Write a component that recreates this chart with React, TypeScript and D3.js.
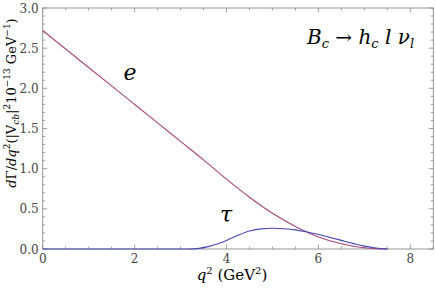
import React, { useEffect, useRef } from "react";
import * as d3 from "d3";

// e channel: q^2 (GeV^2) and dGamma/dq^2
const eQ2 = [0, 0.5, 1.0, 1.5, 2.0, 2.5, 3.0, 3.5, 4.0, 4.5, 5.0, 5.5, 6.0, 6.5, 7.0, 7.25, 7.5];
const eRate = [2.72, 2.49, 2.26, 2.03, 1.8, 1.57, 1.34, 1.11, 0.87, 0.645, 0.445, 0.28, 0.15, 0.065, 0.015, 0.004, 0];

// tau channel
const tauQ2 = [0, 3.16, 3.4, 3.6, 3.8, 4.0, 4.25, 4.5, 4.75, 5.0, 5.25, 5.5, 5.7, 6.0, 6.3, 6.5, 6.75, 7.0, 7.25, 7.5];
const tauRate = [0, 0, 0.008, 0.03, 0.062, 0.105, 0.17, 0.225, 0.25, 0.258, 0.252, 0.238, 0.218, 0.18, 0.137, 0.107, 0.07, 0.036, 0.012, 0];

const xTicks = [0, 2, 4, 6, 8];
const yTicks = [0, 0.5, 1.0, 1.5, 2.0, 2.5, 3.0];

const W = 436;
const H = 288;

const App = () => {
  const svgRef = useRef<SVGSVGElement>(null);

  useEffect(() => {
    const svg = d3.select(svgRef.current);
    svg.selectAll("*").remove();

    const left = 42.7;
    const right = 433.3;
    const top = 8;
    const bottom = 249;

    const x = d3.scaleLinear().domain([0, 8.5]).range([left, right]);
    const y = d3.scaleLinear().domain([0, 3]).range([bottom, top]);

    const frameColor = "#8a8a8a";
    const labelColor = "#444";
    const font = "'DejaVu Serif'";

    // minor ticks
    const xMinor = d3.range(0, 8.5001, 0.5).filter((v) => !xTicks.includes(v));
    const yMinor = d3.range(0, 3.0001, 0.1).map((v) => +v.toFixed(1)).filter((v) => !yTicks.includes(v));

    const ticks = svg.append("g").attr("stroke", frameColor).attr("stroke-width", 0.8);
    const major = 4.5;
    const minor = 2.5;
    xTicks.forEach((v) => {
      ticks.append("line").attr("x1", x(v)).attr("x2", x(v)).attr("y1", bottom).attr("y2", bottom - major);
      ticks.append("line").attr("x1", x(v)).attr("x2", x(v)).attr("y1", top).attr("y2", top + major);
    });
    xMinor.forEach((v) => {
      ticks.append("line").attr("x1", x(v)).attr("x2", x(v)).attr("y1", bottom).attr("y2", bottom - minor);
      ticks.append("line").attr("x1", x(v)).attr("x2", x(v)).attr("y1", top).attr("y2", top + minor);
    });
    yTicks.forEach((v) => {
      ticks.append("line").attr("x1", left).attr("x2", left + major).attr("y1", y(v)).attr("y2", y(v));
      ticks.append("line").attr("x1", right).attr("x2", right - major).attr("y1", y(v)).attr("y2", y(v));
    });
    yMinor.forEach((v) => {
      ticks.append("line").attr("x1", left).attr("x2", left + minor).attr("y1", y(v)).attr("y2", y(v));
      ticks.append("line").attr("x1", right).attr("x2", right - minor).attr("y1", y(v)).attr("y2", y(v));
    });

    // frame
    svg
      .append("rect")
      .attr("x", left)
      .attr("y", top)
      .attr("width", right - left)
      .attr("height", bottom - top)
      .attr("fill", "none")
      .attr("stroke", frameColor)
      .attr("stroke-width", 0.9);

    // tick labels
    svg
      .append("g")
      .selectAll("text")
      .data(xTicks)
      .join("text")
      .attr("x", (d) => x(d))
      .attr("y", bottom + 14)
      .attr("text-anchor", "middle")
      .style("font-family", font)
      .style("font-size", "12px")
      .attr("fill", labelColor)
      .text((d) => String(d));

    svg
      .append("g")
      .selectAll("text")
      .data(yTicks)
      .join("text")
      .attr("x", left - 4)
      .attr("y", (d) => y(d) + 4.5)
      .attr("text-anchor", "end")
      .style("font-family", font)
      .style("font-size", "12px")
      .attr("fill", labelColor)
      .text((d) => d3.format(".1f")(d));

    // curves
    const line = d3
      .line<number>()
      .x((d) => x(d))
      .curve(d3.curveMonotoneX);

    svg
      .append("path")
      .attr("d", line.y((d, i) => y(eRate[i]))(eQ2))
      .attr("fill", "none")
      .attr("stroke", "#a8457c")
      .attr("stroke-width", 1.1);

    svg
      .append("path")
      .attr("d", line.y((d, i) => y(tauRate[i]))(tauQ2))
      .attr("fill", "none")
      .attr("stroke", "#4848b4")
      .attr("stroke-width", 1.1);

    // curve labels
    svg
      .append("text")
      .attr("x", 130)
      .attr("y", 80)
      .attr("text-anchor", "middle")
      .style("font-family", font)
      .style("font-style", "italic")
      .style("font-size", "22px")
      .text("e");

    svg
      .append("text")
      .attr("x", 226)
      .attr("y", 222)
      .attr("text-anchor", "middle")
      .style("font-family", font)
      .style("font-style", "italic")
      .style("font-size", "22px")
      .text("τ");

    // process label
    const title = svg
      .append("text")
      .attr("x", 307)
      .attr("y", 44)
      .style("font-family", font)
      .style("font-size", "20px");
    title.append("tspan").style("font-style", "italic").text("B");
    title.append("tspan").style("font-style", "italic").style("font-size", "13px").attr("dy", 4).text("c");
    title.append("tspan").attr("dy", -4).text(" → ");
    title.append("tspan").style("font-style", "italic").text("h");
    title.append("tspan").style("font-style", "italic").style("font-size", "13px").attr("dy", 4).text("c");
    title.append("tspan").style("font-style", "italic").attr("dy", -4).text(" l ν");
    title.append("tspan").style("font-style", "italic").style("font-size", "13px").attr("dy", 4).text("l");

    // x label
    const xl = svg
      .append("text")
      .attr("x", 232)
      .attr("y", 280)
      .attr("text-anchor", "middle")
      .style("font-family", font)
      .style("font-size", "15px");
    xl.append("tspan").style("font-style", "italic").text("q");
    xl.append("tspan").style("font-size", "10px").attr("dy", -6).text("2");
    xl.append("tspan").attr("dy", 6).text(" (GeV");
    xl.append("tspan").style("font-size", "10px").attr("dy", -6).text("2");
    xl.append("tspan").attr("dy", 6).text(")");

    // y label
    const yl = svg
      .append("text")
      .attr("transform", `translate(16, ${(13 + 193) / 2}) rotate(-90)`)
      .attr("text-anchor", "middle")
      .style("font-family", font)
      .style("font-size", "13px");
    yl.append("tspan").style("font-style", "italic").text("d");
    yl.append("tspan").text("Γ/");
    yl.append("tspan").style("font-style", "italic").text("dq");
    yl.append("tspan").style("font-size", "9px").attr("dy", -6).text("2");
    yl.append("tspan").attr("dy", 6).text("(|V");
    yl.append("tspan").style("font-style", "italic").style("font-size", "9px").attr("dy", 3).text("cb");
    yl.append("tspan").attr("dy", -3).text("|");
    yl.append("tspan").style("font-size", "9px").attr("dy", -6).text("2");
    yl.append("tspan").attr("dy", 6).text("10");
    yl.append("tspan").style("font-size", "9px").attr("dy", -6).text("−13");
    yl.append("tspan").attr("dy", 6).text(" GeV");
    yl.append("tspan").style("font-size", "9px").attr("dy", -6).text("−1");
    yl.append("tspan").attr("dy", 6).text(")");
  }, []);

  return (
    <svg
      ref={svgRef}
      width={W}
      height={H}
      style={{ position: "absolute", left: 0, top: 0, background: "#fff" }}
    />
  );
};

export default App;
